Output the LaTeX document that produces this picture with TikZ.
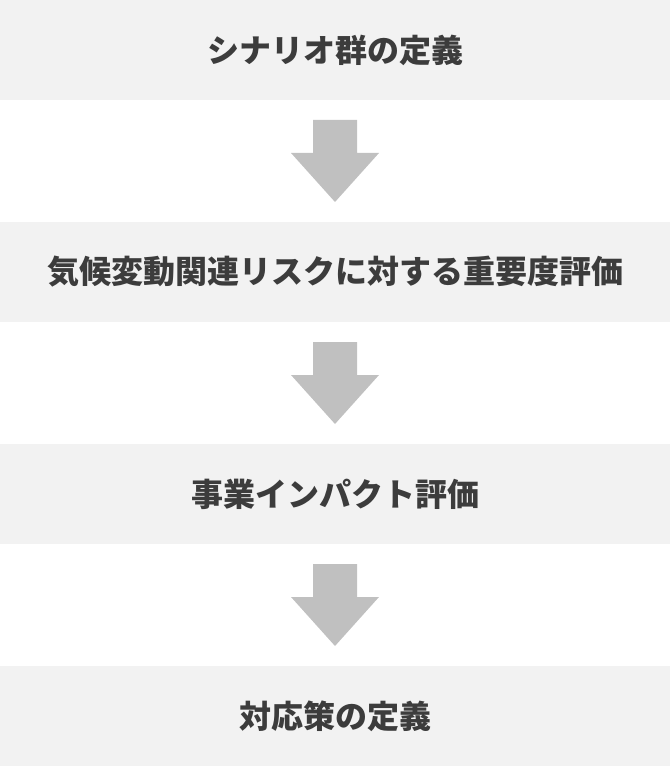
\documentclass[tikz,border=0pt]{standalone}
\usepackage{fontspec}
\newfontfamily\jpfont{Noto Sans CJK JP}
\usetikzlibrary{calc}
\definecolor{boxgray}{HTML}{F2F2F2}
\definecolor{arrowgray}{HTML}{C0C0C0}
\definecolor{txtgray}{HTML}{3C3C3C}

\begin{document}
\begin{tikzpicture}[
    x=0.75pt, y=-0.75pt,
    stage/.style={fill=boxgray, minimum width=502.5pt, minimum height=75pt,
      inner sep=0pt, outer sep=0pt, text=txtgray,
      font=\jpfont\bfseries\fontsize{24}{29}\selectfont},
  ]

  % page frame
  \useasboundingbox (0,0) rectangle (670,766);

  % ===== Stages =====
  \node[stage] (s1) at (335,50)  {シナリオ群の定義};
  \node[stage] (s2) at (335,272) {気候変動関連リスクに対する重要度評価};
  \node[stage] (s3) at (335,494) {事業インパクト評価};
  \node[stage] (s4) at (335,716) {対応策の定義};

  % ===== Block arrows between stages =====
  \foreach \a/\b in {s1/s2, s2/s3, s3/s4} {
    \fill[arrowgray] ($(\a.south)+(-22,20)$) -- ++(44,0) -- ++(0,33) -- ++(22,0)
      -- ($(\b.north)+(0,-20)$) -- ($(\a.south)+(-44,53)$) -- ++(22,0) -- cycle;
  }

\end{tikzpicture}
\end{document}
